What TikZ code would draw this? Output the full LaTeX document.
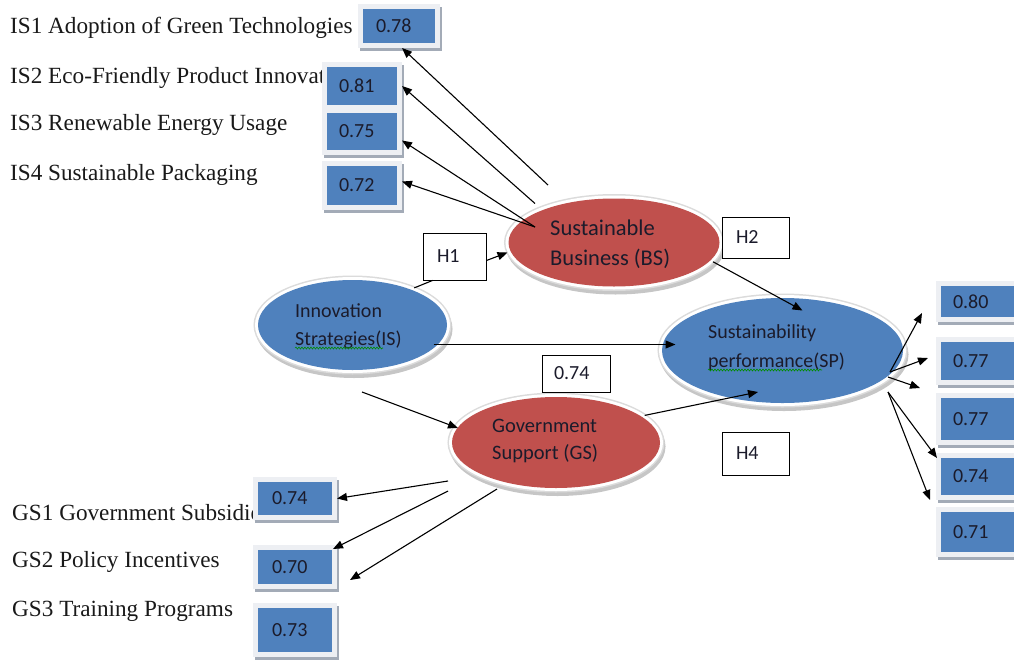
\documentclass[tikz,border=0pt]{standalone}
\usepackage{fontspec}
\setmainfont{Liberation Serif}
\newfontfamily\calibri{Carlito}
\usetikzlibrary{arrows.meta,calc,shapes.geometric,decorations.pathmorphing}

\definecolor{officeblue}{HTML}{4F81BD}
\definecolor{officered}{HTML}{C0504D}
\definecolor{framegrey}{HTML}{EDEFF3}
\definecolor{shadegrey}{HTML}{A3ABB7}
\definecolor{inkdark}{HTML}{1B1B2B}

\begin{document}
\begin{tikzpicture}[x=1pt,y=-1pt,
  item/.style={anchor=base west, inner sep=0pt, font=\fontsize{23.2}{26}\selectfont, text=black!90},
  ctext/.style={anchor=base west, inner sep=0pt, font=\calibri\fontsize{20.5}{24}\selectfont, text=inkdark},
  loading/.style={rectangle, fill=officeblue, inner xsep=13pt, inner ysep=0pt, outer sep=5pt,
    align=left, font=\calibri\fontsize{20}{22}\selectfont, text=inkdark,
    preaction={draw=shadegrey, line width=10pt, transform canvas={shift={(2pt,-3pt)}}},
    preaction={draw=framegrey, line width=10pt}},
  hbox/.style={rectangle, draw=black, line width=0.9pt, fill=white, inner xsep=14pt, inner ysep=0pt,
    align=left, font=\calibri\fontsize{20}{22}\selectfont, text=inkdark},
  construct/.style={ellipse, inner sep=0pt, outer sep=3pt,
    preaction={fill=gray!45, draw=gray!45, line width=8pt, transform canvas={shift={(1.5pt,-4pt)}}},
    preaction={draw=gray!28, line width=9pt},
    preaction={draw=white, line width=6pt}},
  conn/.style={draw=black, line width=1.1pt},
  arr/.style={conn, -{Triangle[length=10pt,width=8pt]}},
  squig/.style={draw=green!55!black, line width=0.6pt, decorate,
    decoration={snake, amplitude=1pt, segment length=3pt}}
]
\useasboundingbox (0,0) rectangle (1014,659);
\clip (0,0) rectangle (1014,659);

% indicator names (left column)
\node[item] (is1) at (10,33)  {IS1 Adoption of Green Technologies};
\node[item] (is2) at (10,83)  {IS2 Eco-Friendly Product Innovat};
\node[item] (is3) at (10,130) {IS3 Renewable Energy Usage};
\node[item] (is4) at (10,180) {IS4 Sustainable Packaging};
\node[item] (gs1) at (12,520) {GS1 Government Subsidie};
\node[item] (gs2) at (12,567) {GS2 Policy Incentives};
\node[item] (gs3) at (12,616) {GS3 Training Programs};

% loading boxes
\node[loading, minimum width=72pt, minimum height=34pt, text width=46pt] (b078) at (399,26) {0.78};
\node[loading, minimum width=70pt, minimum height=38pt, text width=46pt, inner xsep=12pt] (b081) at (362,86) {0.81};
\node[loading, minimum width=70pt, minimum height=37pt, text width=46pt, inner xsep=12pt] (b075) at (362,131.5) {0.75};
\node[loading, minimum width=70pt, minimum height=39pt, text width=46pt, inner xsep=12pt] (b072) at (362,185.5) {0.72};

\node[loading, minimum width=74pt, minimum height=33pt, text width=46pt, inner xsep=14pt] (g074) at (295,498.5) {0.74};
\node[loading, minimum width=74pt, minimum height=34pt, text width=46pt, inner xsep=14pt] (g070) at (295,567) {0.70};
\node[loading, minimum width=74pt, minimum height=44pt, text width=46pt, inner xsep=14pt] (g073) at (295,630) {0.73};

\node[loading, minimum width=74pt, minimum height=31pt, text width=50pt, inner xsep=12pt] (r080) at (978,301.5) {0.80};
\node[loading, minimum width=74pt, minimum height=38pt, text width=50pt, inner xsep=12pt] (r077a) at (978,361) {0.77};
\node[loading, minimum width=74pt, minimum height=42pt, text width=50pt, inner xsep=12pt] (r077b) at (978,419) {0.77};
\node[loading, minimum width=74pt, minimum height=37pt, text width=50pt, inner xsep=12pt] (r074) at (978,476.5) {0.74};
\node[loading, minimum width=74pt, minimum height=40pt, text width=50pt, inner xsep=12pt] (r071) at (978,532) {0.71};

% constructs
\node[construct, fill=officered, minimum width=211pt, minimum height=88pt] (bs) at (614,242.5) {};
\node[construct, fill=officeblue, minimum width=189pt, minimum height=90pt] (is) at (352.5,325) {};
\node[construct, fill=officered, minimum width=208pt, minimum height=91pt] (gs) at (556,442.5) {};
\node[construct, fill=officeblue, minimum width=241pt, minimum height=105pt] (sp) at (782.5,350.5) {};

\node[ctext, font=\calibri\fontsize{22.5}{26}\selectfont] (bs-l1) at (550,235) {Sustainable};
\node[ctext, font=\calibri\fontsize{22.5}{26}\selectfont] (bs-l2) at (550,265) {Business (BS)};
\node[ctext, font=\calibri\fontsize{20}{24}\selectfont] (is-l1) at (295,317) {Innovation};
\node[ctext, font=\calibri\fontsize{20}{24}\selectfont] (is-l2) at (295,345) {Strategies(IS)};
\node[ctext] (gs-l1) at (492,432) {Government};
\node[ctext] (gs-l2) at (492,459) {Support (GS)};
\node[ctext, font=\calibri\fontsize{20}{24}\selectfont] (sp-l1) at (708,338) {Sustainability};
\node[ctext, font=\calibri\fontsize{20}{24}\selectfont] (sp-l2) at (708,367) {performance(SP)};

% spelling squiggles under two words
\draw[squig] ($(is-l2.base west)+(0,3)$) -- ++(88,0);
\draw[squig] ($(sp-l2.base west)+(0,3)$) -- ++(114,0);

% hypothesis and path labels
\node[hbox, minimum width=63pt, minimum height=47pt, text width=35pt] (h1) at (454.5,256.5) {H1};
\node[hbox, minimum width=67pt, minimum height=41pt, text width=39pt] (h2) at (755.5,237.5) {H2};
\node[hbox, minimum width=67pt, minimum height=43pt, text width=39pt] (h4) at (755.5,453.5) {H4};
\node[hbox, minimum width=68pt, minimum height=37pt, text width=44pt, inner xsep=12pt] (p074) at (576,373.5) {0.74};

% structural paths
\draw[conn] (is.31.7) -- ($(h1.south west)+(10,0)$);
\draw[arr] ($(h1.east)+(0,4)$) -- ($(bs.west)+(2,10)$);
\draw[arr] (bs.-11.4) -- ($(sp.center)+(20,-40)$);
\draw[arr] ($(is.center)+(81,19.5)$) -- ($(sp.center)+(-107,-6)$);
\draw[arr] ($(is.center)+(9.5,67)$) -- ($(gs.center)+(-98,-14.5)$);
\draw[arr] (gs.17) -- ($(sp.center)+(-24.5,41.5)$);

% measurement paths of BS
\draw[arr] ($(bs.center)+(-66,-57.5)$) -- ($(b078.south)+(3,0)$);
\draw[arr] ($(bs.center)+(-79,-39)$) -- (b081.east);
\draw[arr] ($(bs.center)+(-79,-15.5)$) -- ($(b075.east)+(0,9)$);
\draw[arr] ($(bs.center)+(-79,-15.5)$) -- ($(b072.east)+(0,-4)$);

% measurement paths of SP
\draw[arr] ($(sp.center)+(107.5,21.5)$) -- ($(r080.south west)+(-14,-9)$);
\draw[arr] ($(sp.center)+(107.5,21.5)$) -- ($(r077a.west)+(-8,-3)$);
\draw[arr] ($(sp.center)+(105.5,26.5)$) -- ($(r077a.south west)+(-16,3)$);
\draw[arr] ($(sp.center)+(105.5,41.5)$) -- ($(r074.north west)+(1,5)$);
\draw[arr] ($(sp.center)+(105.5,41.5)$) -- ($(r074.south west)+(-6,0)$);

% measurement paths of GS
\draw[arr] ($(gs.center)+(-108,38.5)$) -- (g074.east);
\draw[arr] ($(gs.center)+(-108,48.5)$) -- ($(g070.north east)+(-4,4)$);
\draw[arr] ($(gs.center)+(-59,46.5)$) -- ($(g070.east)+(13,13)$);
\end{tikzpicture}
\end{document}
